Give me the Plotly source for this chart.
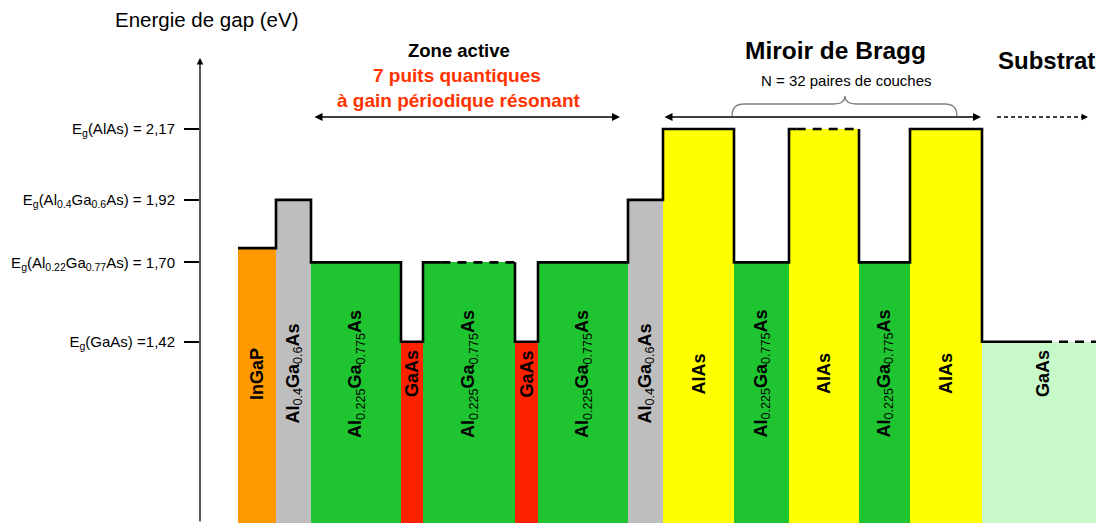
import plotly.graph_objects as go

# ---------------- data ----------------
layer_names = [
    "<b>InGaP</b>",
    "<b>Al</b><sub>0.4</sub><b>Ga</b><sub>0.6</sub><b>As</b>",
    "<b>Al</b><sub>0.225</sub><b>Ga</b><sub>0.775</sub><b>As</b>",
    "<b>GaAs</b>",
    "<b>Al</b><sub>0.225</sub><b>Ga</b><sub>0.775</sub><b>As</b>",
    "<b>GaAs</b>",
    "<b>Al</b><sub>0.225</sub><b>Ga</b><sub>0.775</sub><b>As</b>",
    "<b>Al</b><sub>0.4</sub><b>Ga</b><sub>0.6</sub><b>As</b>",
    "<b>AlAs</b>",
    "<b>Al</b><sub>0.225</sub><b>Ga</b><sub>0.775</sub><b>As</b>",
    "<b>AlAs</b>",
    "<b>Al</b><sub>0.225</sub><b>Ga</b><sub>0.775</sub><b>As</b>",
    "<b>AlAs</b>",
    "<b>GaAs</b>",
]
gap_energy = [1.75, 1.92, 1.70, 1.42, 1.70, 1.42, 1.70, 1.92, 2.17, 1.70, 2.17, 1.70, 2.17, 1.42]
thickness = [38, 35, 90, 22, 92, 23, 90, 35, 71, 55, 70, 51, 72, 122]
first_layer_start = 38

tick_values = [1.42, 1.70, 1.92, 2.17]
tick_labels = [
    "E<sub>g</sub>(GaAs) =1,42",
    "E<sub>g</sub>(Al<sub>0.22</sub>Ga<sub>0.77</sub>As) = 1,70",
    "E<sub>g</sub>(Al<sub>0.4</sub>Ga<sub>0.6</sub>As) = 1,92",
    "E<sub>g</sub>(AlAs) = 2,17",
]

# ---------------- style ----------------
layer_colors = ["#FF9900", "#BEBEBE", "#1EC530", "#FF2200", "#1EC530", "#FF2200", "#1EC530",
                "#BEBEBE", "#FFFF00", "#1EC530", "#FFFF00", "#1EC530", "#FFFF00", "#C8F9C8"]
# fraction of the top edge drawn solid before dashes start
dash_from = {4: 0.2, 10: 0.11, 13: 0.5}

PAGE_W, PAGE_H = 1104, 523
OFF = 8  # default body margin of the html page
W, H = PAGE_W - OFF, PAGE_H - OFF
AXIS_X = 200  # page column of the energy axis
PX_PER_EV = 283.8
Y_REF_PX, E_REF = 233.25, 1.8025
FONT = "Arial, Liberation Sans"


def ey(yp):  # page row -> energy
    return E_REF - (yp - Y_REF_PX) / PX_PER_EV


def dx(xp):  # page column -> x data
    return xp - AXIS_X


def pxp(xp):  # page column -> paper x
    return (xp - AXIS_X) / (PAGE_W - AXIS_X)


def pyp(yp):  # page row -> paper y
    return 1 - (yp - OFF) / H


y_min = ey(PAGE_H)
y_max = ey(OFF)

starts = []
pos = first_layer_start
for t in thickness:
    starts.append(pos)
    pos += t
ends = [s + t for s, t in zip(starts, thickness)]
centers = [s + t / 2 for s, t in zip(starts, thickness)]

fig = go.Figure()
fig.add_trace(go.Bar(
    x=centers, y=[e - y_min for e in gap_energy], base=y_min, width=thickness,
    marker=dict(color=layer_colors, line=dict(width=0)), hoverinfo="skip", showlegend=False,
))

# band-edge outline
sx, sy, dxs, dys = [], [], [], []
for i, (s, e, en) in enumerate(zip(starts, ends, gap_energy)):
    if i in dash_from:
        m = s + (e - s) * dash_from[i]
        sx += [s, m, None]
        sy += [en, en, None]
        dxs += [m, e, None]
        dys += [en, en, None]
        if i + 1 < len(starts):
            sx += [e]
            sy += [en]
    else:
        sx += [s, e]
        sy += [en, en]
fig.add_trace(go.Scatter(x=sx, y=sy, mode="lines", line=dict(color="black", width=2.6),
                         hoverinfo="skip", showlegend=False, connectgaps=False))
fig.add_trace(go.Scatter(x=dxs, y=dys, mode="lines",
                         line=dict(color="black", width=2.6, dash="9px,7px"),
                         hoverinfo="skip", showlegend=False, connectgaps=False))

annotations = []
# layer labels
for c, name in zip(centers, layer_names):
    annotations.append(dict(x=c, y=ey(374), xref="x", yref="y", text=name, showarrow=False,
                            textangle=-90, font=dict(size=18, color="black", family=FONT)))


def txt(xp, yp, text, size, color="black"):
    annotations.append(dict(x=pxp(xp), y=pyp(yp), xref="paper", yref="paper", text=text,
                            showarrow=False, xanchor="center", yanchor="middle",
                            font=dict(size=size, color=color, family=FONT)))


txt(206, 20, "Energie de gap (eV)", 20.5)
txt(459, 50, "<b>Zone active</b>", 18.5)
txt(457, 75, "<b>7 puits quantiques</b>", 19, "#FF3300")
txt(458, 100, "<b>à gain périodique résonant</b>", 19, "#FF3300")
txt(835, 50, "<b>Miroir de Bragg</b>", 24.5)
txt(846, 80, "N = 32 paires de couches", 15)
txt(1046, 60, "<b>Substrat</b>", 24)

# y-axis arrow
annotations.append(dict(x=pxp(AXIS_X), y=pyp(58), xref="paper", yref="paper", ax=0,
                        ay=PAGE_H - 58, axref="pixel", ayref="pixel", text="", showarrow=True,
                        arrowhead=2, arrowsize=1, arrowwidth=1.3, arrowcolor="black"))
y_arr = ey(117)
# zone active arrow
annotations.append(dict(x=dx(620), y=y_arr, ax=dx(313), ay=y_arr, xref="x", yref="y",
                        axref="x", ayref="y", text="", showarrow=True, arrowside="end+start",
                        arrowhead=2, startarrowhead=2, arrowsize=1, startarrowsize=1,
                        arrowwidth=1.6, arrowcolor="black"))
# Bragg arrow
annotations.append(dict(x=dx(981), y=y_arr, ax=dx(663), ay=y_arr, xref="x", yref="y",
                        axref="x", ayref="y", text="", showarrow=True, arrowside="end+start",
                        arrowhead=2, startarrowhead=2, arrowsize=1, startarrowsize=1,
                        arrowwidth=1.6, arrowcolor="black"))
# substrate dashed arrow head
annotations.append(dict(x=dx(1088), y=y_arr, ax=dx(1080), ay=y_arr, xref="x", yref="y",
                        axref="x", ayref="y", text="", showarrow=True,
                        arrowhead=2, arrowsize=1, arrowwidth=1.3, arrowcolor="black"))

shapes = [
    dict(type="line", xref="x", yref="y", x0=dx(997), x1=dx(1082), y0=y_arr, y1=y_arr,
         line=dict(color="black", width=1.3, dash="4px,3px")),
]


def P(xp, yp):
    return f"{dx(xp)},{ey(yp)}"


brace = (f"M {P(732,116)} Q {P(732,104)} {P(744,104)} L {P(833,104)} "
         f"Q {P(845,104)} {P(845,96)} Q {P(845,104)} {P(857,104)} L {P(945,104)} "
         f"Q {P(957,104)} {P(957,116)}")
shapes.append(dict(type="path", xref="x", yref="y", path=brace,
                   line=dict(color="#808080", width=1.3)))

fig.update_layout(
    width=W, height=H, margin=dict(l=AXIS_X - OFF, r=0, t=0, b=0),
    paper_bgcolor="white", plot_bgcolor="white",
    bargap=0, annotations=annotations, shapes=shapes, showlegend=False,
    xaxis=dict(visible=False, range=[0, PAGE_W - AXIS_X], fixedrange=True),
    yaxis=dict(range=[y_min, y_max], tickvals=tick_values, ticktext=tick_labels,
               ticks="outside", ticklen=15, tickwidth=2, tickcolor="black",
               showgrid=False, zeroline=False, showline=False, ticklabelstandoff=6,
               tickfont=dict(size=15, color="black", family=FONT)),
)

fig.write_html("out.html")
